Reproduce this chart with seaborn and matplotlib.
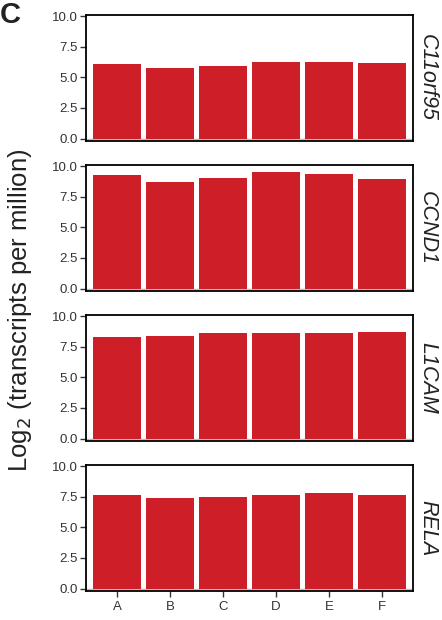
import pandas as pd
import matplotlib
matplotlib.use("Agg")
import matplotlib.pyplot as plt
import seaborn as sns

# Values
samples = ["A", "B", "C", "D", "E", "F"]
genes = ["C11orf95", "CCND1", "L1CAM", "RELA"]
c11orf95 = [6.09, 5.73, 5.90, 6.22, 6.22, 6.14]
ccnd1 = [9.32, 8.71, 9.04, 9.53, 9.37, 8.96]
l1cam = [8.32, 8.41, 8.65, 8.60, 8.60, 8.74]
rela = [7.63, 7.38, 7.47, 7.63, 7.80, 7.63]
yticks = [0.0, 2.5, 5.0, 7.5, 10.0]

sns.set_style("white")
plt.rcParams['font.family'] = ['Liberation Sans', 'DejaVu Sans']

bar_color = "#CE1F29"
tick_color = "#333333"

fig = plt.figure(figsize=(4.42, 6.2), dpi=100)

W, H = 442, 620
left, right = 86, 413
tops = [15, 165, 315, 465]
panel_h = 126

series = [c11orf95, ccnd1, l1cam, rela]

for i, (gene, vals) in enumerate(zip(genes, series)):
    top = tops[i]
    ax = fig.add_axes([left / W, 1 - (top + panel_h) / H,
                       (right - left) / W, panel_h / H])
    df = pd.DataFrame({"sample": samples, "value": vals})
    sns.barplot(data=df, x="sample", y="value", color=bar_color,
                saturation=1, width=0.9, ax=ax, edgecolor="none")
    ax.axhline(0, color="#bbbbbb", lw=1, zorder=0)
    ax.set_xlim(-0.59, 5.59)
    ax.set_ylim(-0.2, 10.1)
    ax.set_yticks(yticks)
    ax.set_yticklabels([f"{t:.1f}" for t in yticks])
    ax.set_xlabel("")
    ax.set_ylabel("")
    for s in ax.spines.values():
        s.set_visible(True)
        s.set_color("black")
        s.set_linewidth(1.3)
    ax.tick_params(axis="y", length=4, width=1, color=tick_color,
                   labelcolor=tick_color, labelsize=9.5, pad=2, left=True)
    if i < 3:
        ax.tick_params(axis="x", bottom=False, labelbottom=False)
    else:
        ax.tick_params(axis="x", length=4, width=1, color=tick_color,
                       labelcolor=tick_color, labelsize=9.5, pad=3, bottom=True)
    ax.text(1.045, 0.5, gene, transform=ax.transAxes, rotation=-90,
            ha="center", va="center", fontsize=15.5, style="italic",
            color="#222222")

fig.text(20 / W, 0.5, r"Log$_2$ (transcripts per million)", rotation=90,
         ha="center", va="center", fontsize=18.5, color="#222222")
fig.text(0.0, 0.998, "C", ha="left", va="top", fontsize=21,
         fontweight="bold", color="#222222")

fig.savefig("out.png", dpi=100)
